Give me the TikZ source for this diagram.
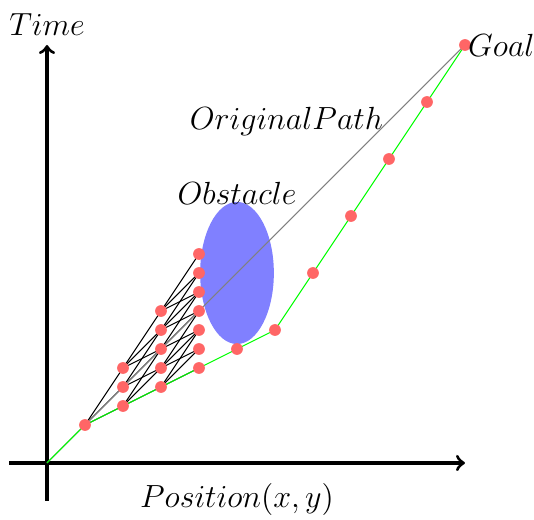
\documentclass[tikz,border=0pt]{standalone}
\begin{document}
\begin{tikzpicture}[x=0.5cm,y=0.5cm,
  dot/.style={circle,fill=red!60,inner sep=0pt,minimum size=4.4pt},
  lattice/.style={black,line width=0.4pt},
  axis/.style={very thick,->},
  greenpath/.style={green,line width=0.4pt},
  origpath/.style={gray,line width=0.4pt},
  lbl/.style={font=\large}]
\useasboundingbox (-1.237,-1.5) rectangle (12.816,12.184);
% obstacle
\fill[blue!50] (5,5) ellipse [x radius=0.97, y radius=1.87];
% axes
\coordinate (xl) at (-1,0);
\coordinate (xr) at (11,0);
\coordinate (yb) at (0,-1);
\coordinate (yt) at (0,11);
\draw[axis] (xl) -- (xr);
\draw[axis] (yb) -- (yt);
% lattice coordinates (y doubled in name)
\coordinate (O) at (0,0);
\coordinate (n-1-2) at (1,1);
\foreach \yy in {3,4,5} {\coordinate (n-2-\yy) at (2,\yy/2);}
\foreach \yy in {4,...,8} {\coordinate (n-3-\yy) at (3,\yy/2);}
\foreach \yy in {5,...,11} {\coordinate (n-4-\yy) at (4,\yy/2);}
% lattice edges
\foreach \d in {1,2,3} {
  \pgfmathtruncatemacro{\t}{2+\d}
  \draw[lattice] (n-1-2) -- (n-2-\t);
}
\foreach \yy in {3,4,5} {
  \foreach \d in {1,2,3} {
    \pgfmathtruncatemacro{\t}{\yy+\d}
    \draw[lattice] (n-2-\yy) -- (n-3-\t);
  }
}
\foreach \yy in {4,...,8} {
  \foreach \d in {1,2,3} {
    \pgfmathtruncatemacro{\t}{\yy+\d}
    \draw[lattice] (n-3-\yy) -- (n-4-\t);
  }
}
% green path coordinates
\coordinate (g5) at (5,3);
\coordinate (g6) at (6,3.5);
\coordinate (g7) at (7,5);
\coordinate (g8) at (8,6.5);
\coordinate (g9) at (9,8);
\coordinate (g10) at (10,9.5);
\coordinate (goal) at (11,11);
% original path
\draw[origpath] (O) -- (goal);
\draw[greenpath] (O) -- (n-1-2) -- (n-2-3) -- (n-3-4) -- (n-4-5) -- (g5) -- (g6) -- (g7) -- (g8) -- (g9) -- (g10) -- (goal);
% dots
\foreach \c in {n-1-2,n-2-3,n-2-4,n-2-5,n-3-4,n-3-5,n-3-6,n-3-7,n-3-8,
  n-4-5,n-4-6,n-4-7,n-4-8,n-4-9,n-4-10,n-4-11,g5,g6,g7,g8,g9,g10,goal}
  {\node[dot] (d-\c) at (\c) {};}
% labels
\node[lbl,right,inner sep=1pt] (goallbl) at (goal) {$Goal$};
\node[lbl] (timelbl) at (0,11.55) {$Time$};
\node[lbl] (poslbl) at (5,-0.95) {$Position(x,y)$};
\node[lbl] (origlbl) at (6.3,9) {$OriginalPath$};
\node[lbl] (obslbl) at (5,7.1) {$Obstacle$};
\end{tikzpicture}
\end{document}
